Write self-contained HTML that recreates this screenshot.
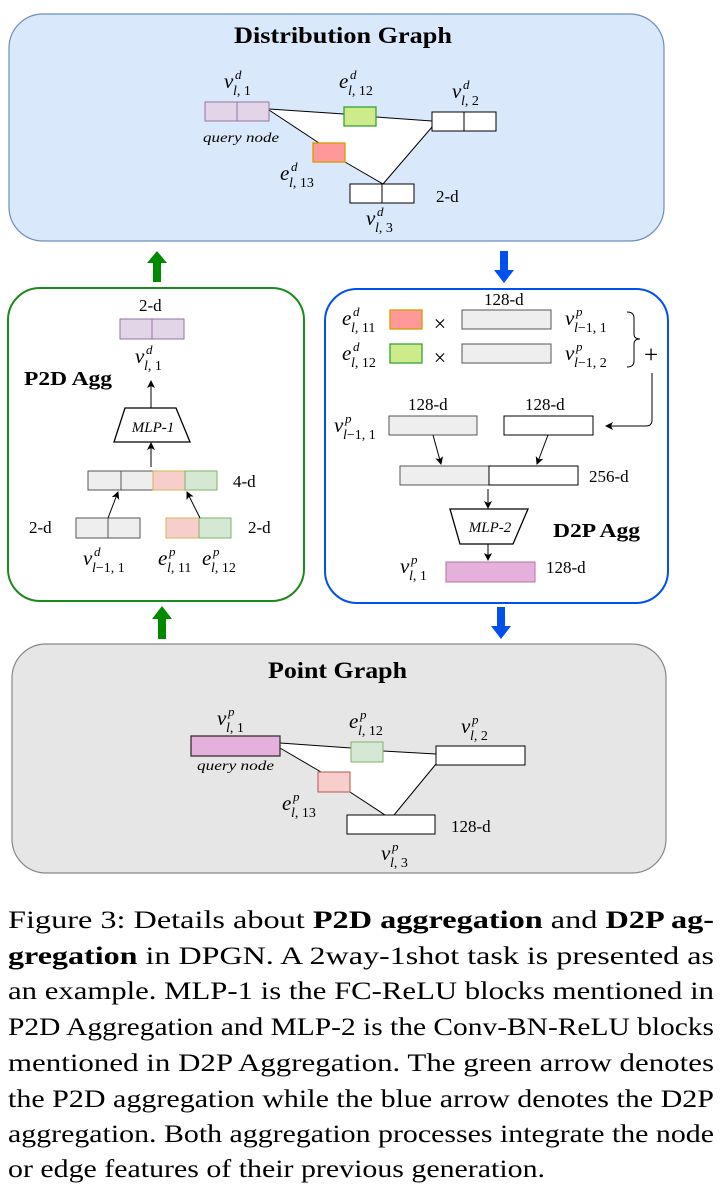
<!DOCTYPE html>
<html><head><meta charset="utf-8"><style>
html,body{margin:0;padding:0;background:#fff;}
svg{display:block;}
svg text{font-family:"Liberation Serif","Times New Roman",Times,serif;fill:#000;}
.it{font-style:italic;}
</style></head><body>
<svg width="722" height="1193" viewBox="0 0 722 1193" xmlns="http://www.w3.org/2000/svg" font-family="Liberation Serif, Times New Roman, Times, serif">
<defs>
<marker id="ah" markerWidth="8" markerHeight="8" refX="7" refY="4" orient="auto" markerUnits="userSpaceOnUse">
<path d="M0,0 L8,4 L0,8 L2,4 Z" fill="#000"/>
</marker>
</defs>

<!-- Distribution graph -->
<rect x="9" y="14" width="655" height="227" rx="34" fill="#dae8fc" stroke="#6c8ebf" stroke-width="1.2"/>
<text x="234" y="43" font-size="23" font-weight="bold" textLength="218" lengthAdjust="spacingAndGlyphs">Distribution Graph</text>
<polygon points="269,109 432,121 432,127 383,184 345,162 319,143 269,110" fill="#fff"/>
<line x1="269" y1="109" x2="344" y2="114" stroke="#000"/>
<line x1="376" y1="117" x2="432" y2="121" stroke="#000"/>
<line x1="269" y1="110" x2="319" y2="143" stroke="#000"/>
<line x1="345" y1="162" x2="383" y2="184" stroke="#000"/>
<line x1="383" y1="184" x2="432" y2="127" stroke="#000"/>
<rect x="205" y="102" width="64" height="19" fill="#e1d5e7" stroke="#9673a6"/><line x1="237" y1="102" x2="237" y2="121" stroke="#9673a6"/>
<rect x="344" y="107" width="32" height="19" fill="#cdeb8b" stroke="#36a336" stroke-width="1.3"/>
<rect x="432" y="112" width="64" height="19" fill="#fff" stroke="#000"/><line x1="464" y1="112" x2="464" y2="131" stroke="#000"/>
<rect x="313" y="143" width="32" height="19" fill="#ff9999" stroke="#d79b00" stroke-width="1.3"/>
<rect x="350" y="184" width="64" height="19" fill="#fff" stroke="#000"/><line x1="382" y1="184" x2="382" y2="203" stroke="#000"/>
<text x="203" y="142" font-size="14" class="it" textLength="76" lengthAdjust="spacingAndGlyphs">query node</text>
<text x="436" y="202" font-size="17">2-d</text>
<g font-size="21">
<text x="224" y="88" class="it">v</text><text x="235" y="79" font-size="13" class="it">d</text><text x="233" y="95" font-size="14"><tspan class="it">l</tspan>, 1</text>
<text x="339" y="88" class="it">e</text><text x="350" y="79" font-size="13" class="it">d</text><text x="348" y="95" font-size="14"><tspan class="it">l</tspan>, 12</text>
<text x="452" y="98" class="it">v</text><text x="463" y="89" font-size="13" class="it">d</text><text x="461" y="105" font-size="14"><tspan class="it">l</tspan>, 2</text>
<text x="280" y="180" class="it">e</text><text x="291" y="171" font-size="13" class="it">d</text><text x="289" y="187" font-size="14"><tspan class="it">l</tspan>, 13</text>
<text x="366" y="225" class="it">v</text><text x="377" y="216" font-size="13" class="it">d</text><text x="375" y="232" font-size="14"><tspan class="it">l</tspan>, 3</text>
</g>

<!-- big arrows -->
<polygon points="153,282 161,282 161,263 167,263 157,251 147,263 153,263" fill="#008a00"/>
<polygon points="500,251 508,251 508,270 514,270 504,283 494,270 500,270" fill="#0050ef"/>
<polygon points="158,639 166,639 166,619 172,619 162,606 152,619 158,619" fill="#008a00"/>
<polygon points="497,607 505,607 505,626 511,626 501,639 491,626 497,626" fill="#0050ef"/>

<!-- P2D box -->
<rect x="8" y="288" width="296" height="313" rx="32" fill="#fff" stroke="#1a8a1a" stroke-width="2"/>
<text x="139" y="311" font-size="17">2-d</text>
<rect x="120" y="319" width="64" height="20" fill="#e1d5e7" stroke="#9673a6"/><line x1="152" y1="319" x2="152" y2="339" stroke="#9673a6"/>
<text x="24" y="385" font-size="20" font-weight="bold" textLength="88" lengthAdjust="spacingAndGlyphs">P2D Agg</text>
<line x1="151" y1="408" x2="151" y2="381" stroke="#000" marker-end="url(#ah)"/>
<polygon points="125,408 176,408 190,442 114,442" fill="#fff" stroke="#000" stroke-width="1.3"/>
<text x="153" y="432" font-size="15" class="it" text-anchor="middle">MLP-1</text>
<line x1="151" y1="467" x2="151" y2="443" stroke="#000" marker-end="url(#ah)"/>
<rect x="88" y="471" width="33" height="19" fill="#eeeeee" stroke="#555"/>
<rect x="121" y="471" width="32" height="19" fill="#eeeeee" stroke="#555"/>
<rect x="153" y="471" width="32" height="19" fill="#f8cecc" stroke="#d6b656"/>
<rect x="185" y="471" width="32" height="19" fill="#d5e8d4" stroke="#82b366"/>
<text x="233" y="487" font-size="17">4-d</text>
<text x="29" y="533" font-size="17">2-d</text>
<text x="248" y="533" font-size="17">2-d</text>
<rect x="76" y="518" width="32" height="20" fill="#eeeeee" stroke="#555"/><rect x="108" y="518" width="32" height="20" fill="#eeeeee" stroke="#555"/>
<rect x="166" y="518" width="33" height="20" fill="#f8cecc" stroke="#d6b656"/><rect x="199" y="518" width="32" height="20" fill="#d5e8d4" stroke="#82b366"/>
<line x1="108" y1="518" x2="118" y2="492" stroke="#000" marker-end="url(#ah)"/>
<line x1="200" y1="518" x2="187" y2="492" stroke="#000" marker-end="url(#ah)"/>
<g font-size="21">
<text x="135" y="363" class="it">v</text><text x="146" y="354" font-size="13" class="it">d</text><text x="144" y="370" font-size="14"><tspan class="it">l</tspan>, 1</text>
<text x="83" y="565" class="it">v</text><text x="94" y="556" font-size="13" class="it">d</text><text x="92" y="572" font-size="14"><tspan class="it">l</tspan>−1, 1</text>
<text x="158" y="565" class="it">e</text><text x="169" y="556" font-size="13" class="it">p</text><text x="167" y="572" font-size="14"><tspan class="it">l</tspan>, 11</text>
<text x="202" y="565" class="it">e</text><text x="213" y="556" font-size="13" class="it">p</text><text x="211" y="572" font-size="14"><tspan class="it">l</tspan>, 12</text>
</g>

<!-- D2P box -->
<rect x="325" y="289" width="343" height="314" rx="32" fill="#fff" stroke="#0050ef" stroke-width="2"/>
<text x="484" y="305" font-size="17">128-d</text>
<rect x="390" y="310" width="32" height="19" fill="#ff9999" stroke="#d79b00" stroke-width="1.3"/>
<rect x="390" y="344" width="32" height="19" fill="#cdeb8b" stroke="#36a336" stroke-width="1.3"/>
<text x="440" y="331" font-size="22" text-anchor="middle">×</text>
<text x="440" y="365" font-size="22" text-anchor="middle">×</text>
<rect x="462" y="310" width="89" height="19" fill="#eeeeee" stroke="#555"/>
<rect x="462" y="344" width="89" height="19" fill="#eeeeee" stroke="#555"/>
<path d="M627,312 Q634,312 634,318 L634,334 Q634,339 640,339 Q634,339 634,344 L634,361 Q634,367 627,367" fill="none" stroke="#000"/>
<text x="644" y="363" font-size="25">+</text>
<path d="M652,373 L652,420 Q652,426 646,426 L606,426" fill="none" stroke="#000" marker-end="url(#ah)"/>
<text x="408" y="410" font-size="17">128-d</text>
<text x="525" y="410" font-size="17">128-d</text>
<rect x="389" y="416" width="88" height="19" fill="#eeeeee" stroke="#555"/>
<rect x="504" y="416" width="89" height="19" fill="#fff" stroke="#000"/>
<line x1="433" y1="435" x2="441" y2="464" stroke="#000" marker-end="url(#ah)"/>
<line x1="548" y1="435" x2="537" y2="464" stroke="#000" marker-end="url(#ah)"/>
<rect x="400" y="466" width="89" height="19" fill="#eeeeee" stroke="#555"/>
<rect x="489" y="466" width="89" height="19" fill="#fff" stroke="#000"/>
<text x="589" y="482" font-size="17">256-d</text>
<line x1="488" y1="489" x2="488" y2="508" stroke="#000" marker-end="url(#ah)"/>
<polygon points="450,509 528,509 513,544 460,544" fill="#fff" stroke="#000" stroke-width="1.3"/>
<text x="490" y="532" font-size="15" class="it" text-anchor="middle">MLP-2</text>
<text x="553" y="537" font-size="20" font-weight="bold" textLength="87" lengthAdjust="spacingAndGlyphs">D2P Agg</text>
<line x1="488" y1="544" x2="488" y2="560" stroke="#000" marker-end="url(#ah)"/>
<rect x="446" y="562" width="89" height="20" fill="#e6b0dc" stroke="#b5739d"/>
<text x="546" y="573" font-size="17">128-d</text>
<g font-size="21">
<text x="342" y="325" class="it">e</text><text x="353" y="316" font-size="13" class="it">d</text><text x="351" y="332" font-size="14"><tspan class="it">l</tspan>, 11</text>
<text x="342" y="360" class="it">e</text><text x="353" y="351" font-size="13" class="it">d</text><text x="351" y="367" font-size="14"><tspan class="it">l</tspan>, 12</text>
<text x="565" y="325" class="it">v</text><text x="576" y="316" font-size="13" class="it">p</text><text x="574" y="332" font-size="14"><tspan class="it">l</tspan>−1, 1</text>
<text x="565" y="360" class="it">v</text><text x="576" y="351" font-size="13" class="it">p</text><text x="574" y="367" font-size="14"><tspan class="it">l</tspan>−1, 2</text>
<text x="334" y="432" class="it">v</text><text x="345" y="423" font-size="13" class="it">p</text><text x="343" y="439" font-size="14"><tspan class="it">l</tspan>−1, 1</text>
<text x="400" y="573" class="it">v</text><text x="411" y="564" font-size="13" class="it">p</text><text x="409" y="580" font-size="14"><tspan class="it">l</tspan>, 1</text>
</g>

<!-- Point graph -->
<rect x="12" y="644" width="654" height="229" rx="34" fill="#e6e6e6" stroke="#888" stroke-width="1.2"/>
<text x="268" y="678" font-size="23" font-weight="bold" textLength="139" lengthAdjust="spacingAndGlyphs">Point Graph</text>
<polygon points="280,743 436,754 436,764 394,815 385,815 350,792 321,772 280,748" fill="#fff"/>
<line x1="280" y1="743" x2="351" y2="748" stroke="#000"/>
<line x1="383" y1="751" x2="436" y2="754" stroke="#000"/>
<line x1="280" y1="748" x2="321" y2="772" stroke="#000"/>
<line x1="350" y1="792" x2="385" y2="815" stroke="#000"/>
<line x1="394" y1="815" x2="436" y2="764" stroke="#000"/>
<rect x="191" y="736" width="89" height="20" fill="#e6b0dc" stroke="#333" stroke-width="1.3"/>
<rect x="351" y="742" width="32" height="20" fill="#d5e8d4" stroke="#82b366"/>
<rect x="436" y="746" width="89" height="19" fill="#fff" stroke="#000"/>
<rect x="318" y="772" width="32" height="20" fill="#f8cecc" stroke="#b85450"/>
<rect x="347" y="815" width="88" height="19" fill="#fff" stroke="#000"/>
<text x="197" y="770" font-size="14" class="it" textLength="77" lengthAdjust="spacingAndGlyphs">query node</text>
<text x="451" y="832" font-size="17">128-d</text>
<g font-size="21">
<text x="217" y="725" class="it">v</text><text x="228" y="716" font-size="13" class="it">p</text><text x="226" y="732" font-size="14"><tspan class="it">l</tspan>, 1</text>
<text x="349" y="728" class="it">e</text><text x="360" y="719" font-size="13" class="it">p</text><text x="358" y="735" font-size="14"><tspan class="it">l</tspan>, 12</text>
<text x="461" y="733" class="it">v</text><text x="472" y="724" font-size="13" class="it">p</text><text x="470" y="740" font-size="14"><tspan class="it">l</tspan>, 2</text>
<text x="282" y="810" class="it">e</text><text x="293" y="801" font-size="13" class="it">p</text><text x="291" y="817" font-size="14"><tspan class="it">l</tspan>, 13</text>
<text x="381" y="860" class="it">v</text><text x="392" y="851" font-size="13" class="it">p</text><text x="390" y="867" font-size="14"><tspan class="it">l</tspan>, 3</text>
</g>

<!-- caption -->
<g font-size="25">
<text x="8" y="928" textLength="706" lengthAdjust="spacingAndGlyphs">Figure 3:  Details about <tspan font-weight="bold">P2D aggregation</tspan> and <tspan font-weight="bold">D2P ag-</tspan></text>
<text x="8" y="964" textLength="706" lengthAdjust="spacingAndGlyphs"><tspan font-weight="bold">gregation</tspan> in DPGN. A 2way-1shot task is presented as</text>
<text x="8" y="999" textLength="706" lengthAdjust="spacingAndGlyphs">an example.  MLP-1 is the FC-ReLU blocks mentioned in</text>
<text x="8" y="1035" textLength="706" lengthAdjust="spacingAndGlyphs">P2D Aggregation and MLP-2 is the Conv-BN-ReLU blocks</text>
<text x="8" y="1071" textLength="706" lengthAdjust="spacingAndGlyphs">mentioned in D2P Aggregation.  The green arrow denotes</text>
<text x="8" y="1107" textLength="706" lengthAdjust="spacingAndGlyphs">the P2D aggregation while the blue arrow denotes the D2P</text>
<text x="8" y="1142" textLength="706" lengthAdjust="spacingAndGlyphs">aggregation. Both aggregation processes integrate the node</text>
<text x="8" y="1177" textLength="537" lengthAdjust="spacingAndGlyphs">or edge features of their previous generation.</text>
</g>
</svg>
</body></html>
